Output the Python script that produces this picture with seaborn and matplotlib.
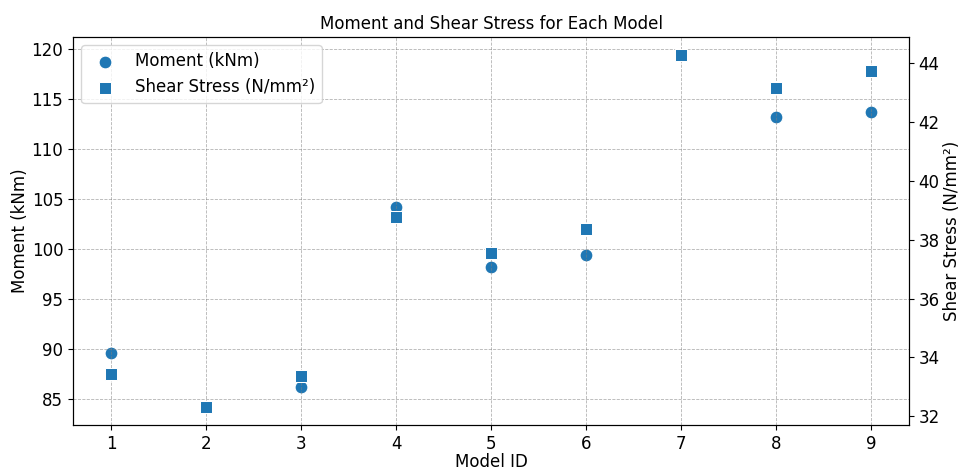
import matplotlib
matplotlib.use("Agg")
import matplotlib.pyplot as plt
import seaborn as sns
import pandas as pd

model_ids = [1, 2, 3, 4, 5, 6, 7, 8, 9]
moment = [89.65, 84.2, 86.2, 104.2, 98.2, 99.4, 119.4, 113.2, 113.7]
shear = [33.45, 32.3, 33.35, 38.78, 37.56, 38.37, 44.3, 43.15, 43.75]

df = pd.DataFrame({"Model ID": model_ids, "Moment": moment, "Shear": shear})

fig = plt.figure(figsize=(9.59, 4.70), dpi=100)
ax1 = fig.add_axes([73/959, 1-425/470, (909-73)/959, (425-37)/470])
color = "#1f77b4"
sns.scatterplot(data=df, x="Model ID", y="Moment", ax=ax1, marker="o", s=85,
                color=color, label="Moment (kNm)", legend=False)
ax2 = ax1.twinx()
sns.scatterplot(data=df, x="Model ID", y="Shear", ax=ax2, marker="s", s=85,
                color=color, label="Shear Stress (N/mm²)", legend=False)

ax1.set_xlabel("Model ID", fontsize=12, labelpad=0)
ax1.set_ylabel("Moment (kNm)", fontsize=12, labelpad=2)
ax2.set_ylabel("Shear Stress (N/mm²)", fontsize=12, labelpad=2)
ax1.set_title("Moment and Shear Stress for Each Model", fontsize=12)
ax1.set_xticks(model_ids)
ax1.tick_params(labelsize=12)
ax2.tick_params(labelsize=12)
ax1.grid(True, linestyle="--", color="grey", alpha=0.6, linewidth=0.6)

h1, l1 = ax1.get_legend_handles_labels()
h2, l2 = ax2.get_legend_handles_labels()
ax1.legend(h1 + h2, l1 + l2, loc="upper left", fontsize=12)

fig.savefig("out.png", dpi=100)
